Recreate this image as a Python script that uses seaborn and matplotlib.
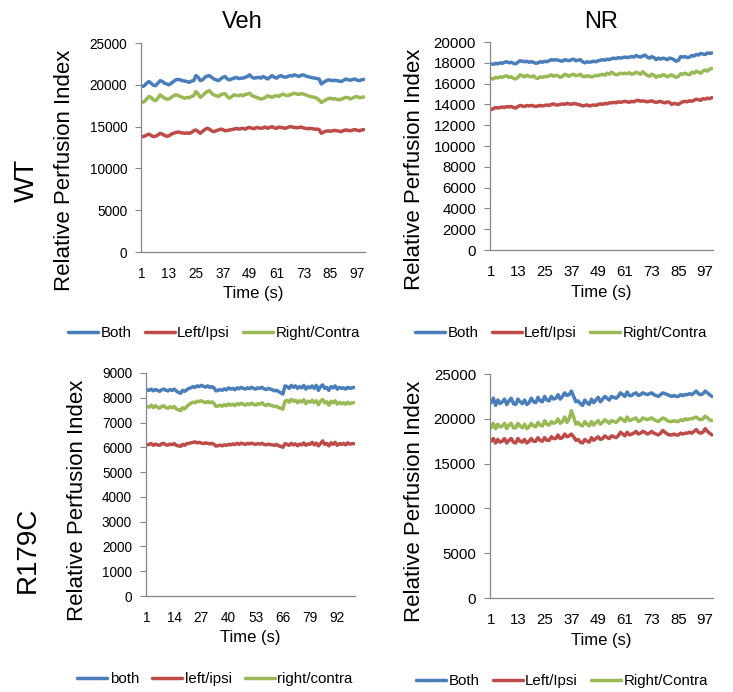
import numpy as np
import pandas as pd
import seaborn as sns
import matplotlib.pyplot as plt

# Datos (indice de perfusion relativa, 1..100 s)

time_s = list(range(1, 101))

wt_veh_both = [
    19800, 19900, 20200, 20400, 20200, 19950, 19900, 20200, 20500, 20400,
    20200, 20100, 20000, 20200, 20400, 20600, 20650, 20600, 20500, 20450,
    20400, 20300, 20450, 20500, 21100, 20900, 20500, 20600, 20900, 21050,
    21100, 20900, 20700, 20600, 20500, 20700, 20900, 21000, 20700, 20600,
    20700, 20800, 20900, 20750, 20800, 20800, 20900, 21000, 21200, 20900,
    20800, 20850, 20900, 20800, 21000, 20850, 20700, 20900, 21100, 20900,
    20800, 21000, 21100, 20950, 20900, 21000, 21100, 21050, 21200, 21100,
    21000, 21150, 21200, 21050, 21000, 20900, 20850, 20800, 20750, 20700,
    20100, 20300, 20450, 20600, 20550, 20500, 20550, 20500, 20450, 20400,
    20550, 20700, 20600, 20550, 20650, 20700, 20550, 20500, 20600, 20650]
wt_veh_left = [
    13800, 13850, 14000, 14100, 13950, 13800, 13850, 14000, 14200, 14100,
    13950, 13850, 13900, 14100, 14200, 14300, 14350, 14300, 14250, 14200,
    14250, 14200, 14300, 14500, 14600, 14400, 14200, 14450, 14650, 14800,
    14700, 14500, 14400, 14500, 14600, 14700, 14650, 14500, 14550, 14600,
    14650, 14700, 14800, 14700, 14750, 14800, 14700, 14850, 14900, 14800,
    14750, 14900, 14850, 14800, 14850, 14950, 14800, 14900, 15000, 14850,
    14800, 14950, 14900, 14850, 14800, 14900, 15000, 14950, 14900, 14850,
    14900, 14950, 14850, 14800, 14750, 14800, 14750, 14700, 14700, 14650,
    14200, 14350, 14450, 14500, 14450, 14500, 14550, 14500, 14450, 14400,
    14550, 14600, 14550, 14500, 14600, 14650, 14550, 14500, 14600, 14650]
wt_veh_right = [
    17900, 18000, 18300, 18600, 18500, 18200, 18100, 18400, 18800, 18600,
    18400, 18300, 18300, 18500, 18700, 18800, 18750, 18600, 18500, 18400,
    18500, 18450, 18600, 18700, 19200, 18900, 18500, 18700, 19000, 19200,
    19300, 19000, 18800, 18700, 18600, 18800, 18900, 18950, 18600, 18400,
    18600, 18800, 18750, 18700, 18800, 18700, 18850, 18900, 19000, 18700,
    18600, 18500, 18400, 18300, 18350, 18500, 18700, 18600, 18500, 18650,
    18700, 18600, 18800, 18900, 18750, 18700, 18800, 18900, 19000, 18900,
    18850, 18950, 18900, 18800, 18700, 18600, 18550, 18500, 18400, 18200,
    17900, 18050, 18200, 18350, 18400, 18300, 18350, 18250, 18200, 18300,
    18400, 18500, 18450, 18300, 18450, 18550, 18600, 18450, 18500, 18550]

wt_nr_both = [
    17900, 17850, 17950, 17900, 18000, 17950, 18050, 18100, 18000, 18050,
    17950, 17900, 18050, 18200, 18150, 18100, 18150, 18050, 18100, 18050,
    17950, 18000, 18100, 18050, 18150, 18100, 18200, 18300, 18250, 18300,
    18250, 18200, 18150, 18300, 18250, 18200, 18300, 18350, 18200, 18250,
    18300, 18100, 18000, 18100, 18050, 18100, 18150, 18100, 18200, 18250,
    18300, 18250, 18350, 18300, 18400, 18450, 18400, 18500, 18450, 18500,
    18550, 18500, 18550, 18600, 18550, 18700, 18600, 18550, 18650, 18750,
    18550, 18450, 18600, 18500, 18300, 18450, 18350, 18450, 18400, 18300,
    18450, 18400, 18300, 18150, 18250, 18600, 18550, 18600, 18500, 18550,
    18700, 18650, 18800, 18750, 18900, 18850, 18800, 18950, 18900, 18950]
wt_nr_left = [
    13500, 13600, 13700, 13650, 13700, 13750, 13700, 13800, 13750, 13800,
    13700, 13650, 13800, 13900, 13850, 13800, 13900, 13850, 13900, 13850,
    13800, 13850, 13900, 13850, 13900, 13950, 13900, 14000, 14050, 13950,
    13950, 14000, 14050, 14000, 14100, 14050, 14000, 14100, 14050, 14000,
    13950, 13850, 13900, 13950, 13850, 13900, 13950, 13900, 14000, 14050,
    14000, 14100, 14050, 14150, 14150, 14200, 14150, 14250, 14200, 14250,
    14300, 14250, 14200, 14300, 14250, 14350, 14400, 14300, 14350, 14300,
    14250, 14300, 14350, 14250, 14200, 14250, 14300, 14200, 14150, 14250,
    14200, 14000, 14100, 14050, 14000, 14150, 14250, 14300, 14250, 14350,
    14300, 14400, 14500, 14450, 14400, 14550, 14500, 14600, 14550, 14650]
wt_nr_right = [
    16500, 16450, 16600, 16550, 16650, 16600, 16700, 16750, 16600, 16650,
    16500, 16450, 16600, 16850, 16750, 16650, 16800, 16700, 16650, 16750,
    16550, 16500, 16650, 16600, 16700, 16650, 16750, 16850, 16700, 16800,
    16750, 16600, 16700, 16900, 16800, 16700, 16850, 16900, 16750, 16800,
    16900, 16700, 16650, 16750, 16700, 16650, 16700, 16800, 16750, 16850,
    16900, 16800, 17000, 16900, 17100, 16950, 16850, 16900, 17000, 16950,
    17000, 16950, 17050, 16900, 16950, 17100, 17000, 16900, 17150, 16950,
    16800, 16700, 16900, 16800, 16600, 16750, 16700, 16850, 16800, 16650,
    16750, 16850, 16700, 16600, 16700, 16950, 16900, 17000, 16900, 16850,
    17100, 17000, 17200, 17100, 17000, 17200, 17300, 17200, 17400, 17450]

r179c_veh_both = [
    8320, 8300, 8350, 8280, 8330, 8300, 8260, 8320, 8350, 8300,
    8280, 8330, 8300, 8350, 8270, 8220, 8180, 8300, 8260, 8320,
    8380, 8400, 8450, 8420, 8480, 8450, 8500, 8460, 8430, 8480,
    8420, 8450, 8400, 8280, 8300, 8330, 8300, 8360, 8320, 8400,
    8350, 8380, 8320, 8400, 8360, 8420, 8380, 8350, 8400, 8370,
    8420, 8380, 8350, 8400, 8380, 8420, 8360, 8330, 8380, 8350,
    8320, 8280, 8300, 8250, 8200, 8150, 8480, 8450, 8380, 8500,
    8420, 8480, 8380, 8450, 8400, 8500, 8350, 8450, 8400, 8480,
    8380, 8500, 8300, 8450, 8520, 8380, 8420, 8300, 8450, 8400,
    8480, 8350, 8420, 8380, 8400, 8350, 8420, 8380, 8400, 8420]
r179c_veh_left = [
    6100, 6120, 6150, 6080, 6130, 6100, 6080, 6140, 6160, 6100,
    6090, 6130, 6110, 6150, 6080, 6060, 6040, 6120, 6080, 6150,
    6160, 6180, 6200, 6220, 6180, 6200, 6170, 6150, 6180, 6160,
    6140, 6160, 6120, 6050, 6070, 6090, 6060, 6100, 6080, 6120,
    6100, 6140, 6110, 6160, 6120, 6170, 6140, 6120, 6160, 6140,
    6170, 6140, 6120, 6150, 6130, 6160, 6120, 6100, 6130, 6110,
    6100, 6080, 6120, 6060, 6040, 6000, 6150, 6120, 6080, 6160,
    6100, 6140, 6060, 6130, 6100, 6180, 6080, 6140, 6120, 6200,
    6100, 6170, 6060, 6150, 6260, 6120, 6160, 6060, 6180, 6120,
    6200, 6080, 6150, 6120, 6160, 6100, 6180, 6130, 6140, 6150]
r179c_veh_right = [
    7650, 7620, 7700, 7600, 7680, 7620, 7580, 7650, 7680, 7600,
    7580, 7640, 7600, 7650, 7550, 7520, 7480, 7600, 7550, 7650,
    7720, 7780, 7820, 7800, 7860, 7850, 7880, 7840, 7800, 7850,
    7800, 7830, 7780, 7650, 7670, 7700, 7660, 7720, 7680, 7750,
    7700, 7740, 7680, 7760, 7720, 7780, 7740, 7700, 7760, 7720,
    7780, 7740, 7700, 7760, 7740, 7800, 7720, 7690, 7740, 7700,
    7680, 7640, 7660, 7600, 7580, 7540, 7860, 7900, 7820, 7940,
    7860, 7900, 7800, 7880, 7830, 7920, 7760, 7860, 7820, 7900,
    7800, 7880, 7720, 7860, 7930, 7800, 7840, 7700, 7860, 7800,
    7880, 7740, 7820, 7760, 7800, 7740, 7820, 7760, 7790, 7800]

r179c_nr_both = [
    21800, 22300, 21500, 22100, 21700, 21900, 22200, 21600, 22000, 22300,
    21700, 21600, 22200, 21900, 21700, 22100, 21600, 21800, 22300, 21900,
    21800, 22400, 22000, 21900, 22500, 22100, 22000, 22500, 22200, 22300,
    22700, 22200, 22500, 22900, 22600, 22700, 23100, 22500, 21900, 22000,
    21700, 21500, 22100, 21800, 21600, 22200, 21800, 22100, 22400, 21900,
    22200, 22500, 22300, 22100, 22500, 22400, 22300, 22500, 22900, 22700,
    22500, 23000, 22600, 22600, 22800, 22900, 22600, 22700, 22900, 22800,
    22700, 22800, 22900, 22700, 22600, 22500, 22700, 22900, 22800, 22700,
    22600, 22500, 22600, 22500, 22500, 22700, 22600, 22700, 22700, 22800,
    22700, 22900, 23100, 22800, 22700, 22800, 23100, 22900, 22700, 22500]
r179c_nr_left = [
    17500, 17800, 17300, 17700, 17400, 17500, 17800, 17300, 17600, 17800,
    17400, 17300, 17800, 17500, 17400, 17700, 17300, 17500, 17800, 17500,
    17500, 17900, 17600, 17500, 17900, 17600, 17600, 18000, 17800, 17800,
    18200, 17800, 17900, 18300, 18000, 18100, 18300, 18000, 17600, 17700,
    17400, 17300, 17700, 17500, 17400, 17900, 17600, 17800, 18000, 17700,
    17800, 18100, 17900, 17800, 18100, 18000, 17900, 18100, 18500, 18300,
    18100, 18500, 18200, 18300, 18400, 18600, 18300, 18400, 18600, 18500,
    18300, 18400, 18600, 18400, 18300, 18200, 18400, 18700, 18500, 18300,
    18200, 18200, 18300, 18200, 18200, 18400, 18300, 18400, 18400, 18500,
    18400, 18600, 18800, 18500, 18400, 18500, 18900, 18600, 18400, 18200]
r179c_nr_right = [
    19000, 19500, 18900, 19400, 19100, 19200, 19500, 18900, 19300, 19500,
    19000, 19000, 19500, 19200, 19000, 19400, 18900, 19100, 19500, 19200,
    19100, 19600, 19300, 19200, 19800, 19400, 19300, 19700, 19500, 19600,
    20000, 19500, 19700, 20200, 19600, 20000, 20900, 20200, 19400, 19600,
    19300, 19200, 19700, 19400, 19200, 19700, 19300, 19600, 19800, 19400,
    19600, 19900, 19700, 19500, 19800, 19700, 19600, 19800, 20100, 19900,
    19700, 20200, 19800, 19900, 20000, 20100, 19700, 19800, 20100, 20000,
    19900, 20000, 20100, 19900, 19800, 19700, 19900, 20100, 20000, 19800,
    19700, 19700, 19800, 19700, 19700, 19900, 19800, 20000, 19900, 20000,
    20000, 20100, 20200, 20000, 19900, 20000, 20300, 20100, 19900, 19800]

labels_upper = ['Both', 'Left/Ipsi', 'Right/Contra']
labels_lower = ['both', 'left/ipsi', 'right/contra']
colores = ['#4A7EBB', '#BE4B48', '#98B954']

sns.set_style('white')
plt.rcParams['font.family'] = ['Liberation Sans', 'DejaVu Sans']
plt.rcParams['text.color'] = 'black'
plt.rcParams['axes.labelcolor'] = 'black'
plt.rcParams['xtick.color'] = 'black'
plt.rcParams['ytick.color'] = 'black'


def dibujar_panel(ax, series, etiquetas, ymax, ystep, xstep, tick_fs):
    """Dibuja un panel con las tres series (Both / Left / Right)."""
    df = pd.DataFrame({
        'Tiempo': np.tile(time_s, len(series)),
        'Valor': np.concatenate(series),
        'Serie': np.repeat(etiquetas, len(time_s)),
    })
    sns.lineplot(data=df, x='Tiempo', y='Valor', hue='Serie', hue_order=etiquetas,
                 palette=dict(zip(etiquetas, colores)), linewidth=2.5, ax=ax)
    handles, labs = ax.get_legend_handles_labels()
    ax.get_legend().remove()

    ax.set_xlim(0.5, len(time_s) + 0.5)
    ax.set_ylim(0, ymax)
    ax.set_yticks(np.arange(0, ymax + 1, ystep))
    ax.set_xticks(time_s[::xstep])
    ax.tick_params(axis='y', length=4, width=0.8, color='#868686', pad=6,
                   labelsize=tick_fs, labelcolor='black', left=True)
    ax.tick_params(axis='x', length=0, pad=11, labelsize=tick_fs, labelcolor='black')
    for lado in ['top', 'right']:
        ax.spines[lado].set_visible(False)
    for lado in ['left', 'bottom']:
        ax.spines[lado].set_color('#868686')
        ax.spines[lado].set_linewidth(0.9)
    ax.set_ylabel('Relative Perfusion Index', fontsize=16)
    ax.set_xlabel('Time (s)', fontsize=12, va='top')
    return handles, labs


fig = plt.figure(figsize=(7.33, 6.92), dpi=100)
ax1 = fig.add_axes([0.1924, 0.6358, 0.3056, 0.3020])
ax2 = fig.add_axes([0.6685, 0.6387, 0.3042, 0.3006])
ax3 = fig.add_axes([0.1992, 0.1387, 0.2851, 0.3223])
ax4 = fig.add_axes([0.6685, 0.1358, 0.3042, 0.3237])

paneles = [
    (ax1, [wt_veh_both, wt_veh_left, wt_veh_right], labels_upper, 25000, 5000, 12, 9.8,
     (-0.295, 0.392), (0.5, -0.163), (214, 333)),
    (ax2, [wt_nr_both, wt_nr_left, wt_nr_right], labels_upper, 20000, 2000, 12, 10.8,
     (-0.29, 0.39), (0.5, -0.168), (561, 333)),
    (ax3, [r179c_veh_both, r179c_veh_left, r179c_veh_right], labels_lower, 9000, 1000, 13, 9.8,
     (-0.277, 0.43), (0.5, -0.152), (215, 679)),
    (ax4, [r179c_nr_both, r179c_nr_left, r179c_nr_right], labels_upper, 25000, 5000, 12, 10.8,
     (-0.29, 0.43), (0.5, -0.156), (562, 681)),
]

W, H = 733, 692
for ax, series, etiq, ymax, ystep, xstep, fs, ylc, xlc, leg in paneles:
    handles, labs = dibujar_panel(ax, series, etiq, ymax, ystep, xstep, fs)
    ax.yaxis.set_label_coords(*ylc)
    ax.xaxis.set_label_coords(*xlc)
    fig.legend(handles, labs, loc='center', bbox_to_anchor=(leg[0] / W, 1 - leg[1] / H),
               ncol=3, frameon=False, fontsize=10.8, handlelength=2.0,
               handletextpad=0.15, columnspacing=0.9, borderaxespad=0)

# Titulos de columna y etiquetas de fila
fig.text(242 / W, 1 - 22 / H, 'Veh', fontsize=17, ha='center', va='center')
fig.text(601 / W, 1 - 22 / H, 'NR', fontsize=17, ha='center', va='center')
fig.text(27 / W, 1 - 180 / H, 'WT', fontsize=20, rotation=90, ha='center', va='center')
fig.text(28 / W, 1 - 550 / H, 'R179C', fontsize=20, rotation=90, ha='center', va='center')

plt.savefig('out.png', dpi=100)
